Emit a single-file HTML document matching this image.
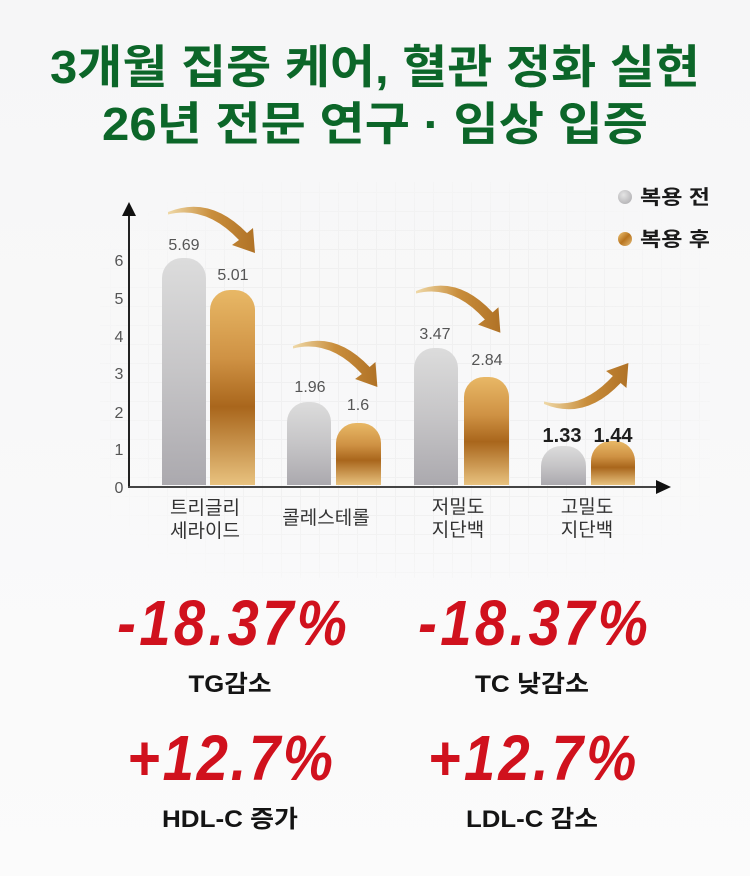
<!DOCTYPE html>
<html><head><meta charset="utf-8">
<style>
html,body{margin:0;padding:0;background:#f8f8f8;}
svg{display:block;}
</style></head>
<body>
<svg width="750" height="876" viewBox="0 0 750 876" xmlns="http://www.w3.org/2000/svg">
<defs>
  <linearGradient id="bg" x1="0" y1="0" x2="0" y2="1">
    <stop offset="0" stop-color="#f6f6f7"/>
    <stop offset="1" stop-color="#fbfbfb"/>
  </linearGradient>
  <linearGradient id="grey" x1="0" y1="0" x2="0" y2="1">
    <stop offset="0" stop-color="#dcdcdc"/>
    <stop offset="0.5" stop-color="#c6c5c7"/>
    <stop offset="1" stop-color="#aba9ae"/>
  </linearGradient>
  <linearGradient id="gold" x1="0" y1="0" x2="0" y2="1">
    <stop offset="0" stop-color="#e8b866"/>
    <stop offset="0.35" stop-color="#cf9244"/>
    <stop offset="0.6" stop-color="#a9661c"/>
    <stop offset="1" stop-color="#e8c27f"/>
  </linearGradient>
  <linearGradient id="arr" x1="0" y1="0" x2="1" y2="0">
    <stop offset="0" stop-color="#efd9a8"/>
    <stop offset="0.5" stop-color="#c98e3c"/>
    <stop offset="1" stop-color="#b07226"/>
  </linearGradient>
  <radialGradient id="lg" cx="0.4" cy="0.35" r="0.7">
    <stop offset="0" stop-color="#e4e4e4"/>
    <stop offset="1" stop-color="#b4b3b6"/>
  </radialGradient>
  <linearGradient id="lgold" x1="0" y1="0" x2="1" y2="1">
    <stop offset="0" stop-color="#f0c77a"/>
    <stop offset="0.5" stop-color="#b8741f"/>
    <stop offset="1" stop-color="#e6bf7c"/>
  </linearGradient>
  <path id="arrowShape" d="M0,-1 Q42,-18 79,20 L85,15 L87,40 L64,32 L71,27 Q38,-8 0,1.5 Z"/>
  <pattern id="grid" width="19" height="19" patternUnits="userSpaceOnUse" x="110" y="192">
    <path d="M0,0.5 H19 M0.5,0 V19" stroke="#ececec" stroke-width="1" fill="none"/>
  </pattern>
  <radialGradient id="fade" cx="0.5" cy="0.5" r="0.6">
    <stop offset="0.6" stop-color="#fff"/>
    <stop offset="1" stop-color="#000"/>
  </radialGradient>
  <mask id="gm"><rect x="100" y="180" width="610" height="400" fill="url(#fade)"/></mask>
</defs>

<rect width="750" height="876" fill="url(#bg)"/>
<rect x="100" y="182" width="610" height="396" fill="url(#grid)" opacity="0.6" mask="url(#gm)"/>

<!-- Title -->
<g font-family="'Liberation Sans','Noto Sans CJK KR',sans-serif" font-weight="700" fill="#0c6629" text-anchor="middle">
  <text x="375" y="83" font-size="46" textLength="650" lengthAdjust="spacingAndGlyphs">3개월 집중 케어, 혈관 정화 실현</text>
  <text x="375" y="140" font-size="46" textLength="546" lengthAdjust="spacingAndGlyphs">26년 전문 연구 · 임상 입증</text>
</g>

<!-- Legend -->
<circle cx="625" cy="197" r="7" fill="url(#lg)"/>
<circle cx="625" cy="239" r="7" fill="url(#lgold)"/>
<g font-family="'Liberation Sans','Noto Sans CJK KR',sans-serif" font-weight="700" font-size="20" fill="#1a1a1a">
  <text x="640" y="204" textLength="70" lengthAdjust="spacingAndGlyphs">복용 전</text>
  <text x="640" y="246" textLength="70" lengthAdjust="spacingAndGlyphs">복용 후</text>
</g>

<!-- Y tick labels -->
<g font-family="'Liberation Sans',sans-serif" font-size="16" fill="#555" text-anchor="middle">
  <text x="119" y="266">6</text>
  <text x="119" y="304">5</text>
  <text x="119" y="342">4</text>
  <text x="119" y="379">3</text>
  <text x="119" y="418">2</text>
  <text x="119" y="455">1</text>
  <text x="119" y="493">0</text>
</g>

<!-- Bars -->
<g>
  <path d="M162,485 V278 A20,20 0 0 1 182,258 H186 A20,20 0 0 1 206,278 V485 Z" fill="url(#grey)"/>
  <path d="M210,485 V310 A20,20 0 0 1 230,290 H235 A20,20 0 0 1 255,310 V485 Z" fill="url(#gold)"/>
  <path d="M287,485 V422 A20,20 0 0 1 307,402 H311 A20,20 0 0 1 331,422 V485 Z" fill="url(#grey)"/>
  <path d="M336,485 V443 A20,20 0 0 1 356,423 H361 A20,20 0 0 1 381,443 V485 Z" fill="url(#gold)"/>
  <path d="M414,485 V368 A20,20 0 0 1 434,348 H438 A20,20 0 0 1 458,368 V485 Z" fill="url(#grey)"/>
  <path d="M464,485 V397 A20,20 0 0 1 484,377 H489 A20,20 0 0 1 509,397 V485 Z" fill="url(#gold)"/>
  <path d="M541,485 V466 A20,20 0 0 1 561,446 H566 A20,20 0 0 1 586,466 V485 Z" fill="url(#grey)"/>
  <path d="M591,485 V461 A20,20 0 0 1 611,441 H615 A20,20 0 0 1 635,461 V485 Z" fill="url(#gold)"/>
</g>

<!-- Axes -->
<line x1="129" y1="488" x2="129" y2="212" stroke="#222" stroke-width="2"/>
<polygon points="122,216 129,202 136,216" fill="#111"/>
<line x1="128" y1="487" x2="660" y2="487" stroke="#444" stroke-width="2"/>
<polygon points="656,480 671,487 656,494" fill="#111"/>

<!-- Arrows -->
<use href="#arrowShape" fill="url(#arr)" transform="translate(168,213)"/>
<use href="#arrowShape" fill="url(#arr)" transform="translate(293,347) scale(0.97,1)"/>
<use href="#arrowShape" fill="url(#arr)" transform="translate(416,292) scale(0.97,1.02)"/>
<use href="#arrowShape" fill="url(#arr)" transform="translate(544,403) scale(0.97,-1)"/>

<!-- Value labels -->
<g font-family="'Liberation Sans',sans-serif" font-size="16" fill="#555" text-anchor="middle">
  <text x="184" y="250">5.69</text>
  <text x="233" y="280">5.01</text>
  <text x="310" y="392">1.96</text>
  <text x="358" y="410">1.6</text>
  <text x="435" y="339">3.47</text>
  <text x="487" y="365">2.84</text>
</g>
<g font-family="'Liberation Sans',sans-serif" font-size="20" font-weight="700" fill="#1e1e1e" text-anchor="middle">
  <text x="562" y="442">1.33</text>
  <text x="613" y="442">1.44</text>
</g>

<!-- Category labels -->
<g font-family="'Liberation Sans','Noto Sans CJK KR',sans-serif" font-size="19" fill="#333" text-anchor="middle">
  <text x="205" y="514">트리글리</text>
  <text x="205" y="537">세라이드</text>
  <text x="326" y="524">콜레스테롤</text>
  <text x="458" y="513">저밀도</text>
  <text x="458" y="536">지단백</text>
  <text x="587" y="513">고밀도</text>
  <text x="587" y="536">지단백</text>
</g>

<!-- Stats -->
<g font-family="'Liberation Sans',sans-serif" font-size="64" font-weight="700" font-style="italic" fill="#d0111d" text-anchor="middle">
  <text transform="translate(232,645) scale(0.88,1)" x="0" y="0" textLength="261" lengthAdjust="spacing">-18.37%</text>
  <text transform="translate(533,645) scale(0.88,1)" x="0" y="0" textLength="261" lengthAdjust="spacing">-18.37%</text>
  <text transform="translate(230,780) scale(0.88,1)" x="0" y="0" textLength="234" lengthAdjust="spacing">+12.7%</text>
  <text transform="translate(532,780) scale(0.88,1)" x="0" y="0" textLength="237" lengthAdjust="spacing">+12.7%</text>
</g>
<g font-family="'Liberation Sans','Noto Sans CJK KR',sans-serif" font-size="24" font-weight="700" fill="#141414" text-anchor="middle">
  <text x="230" y="692" textLength="83" lengthAdjust="spacingAndGlyphs">TG감소</text>
  <text x="532" y="692" textLength="114" lengthAdjust="spacingAndGlyphs">TC 낮감소</text>
  <text x="230" y="827" textLength="136" lengthAdjust="spacingAndGlyphs">HDL-C 증가</text>
  <text x="532" y="827" textLength="132" lengthAdjust="spacingAndGlyphs">LDL-C 감소</text>
</g>
</svg>
</body></html>
